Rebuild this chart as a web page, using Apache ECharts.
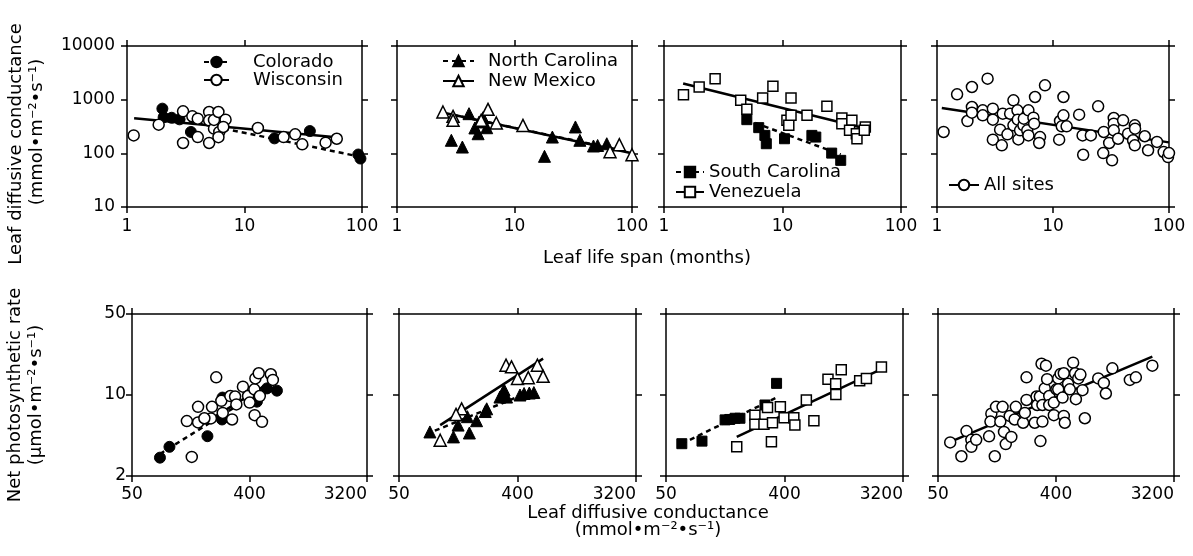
<!DOCTYPE html>
<html><head><meta charset="utf-8">
<script src="https://cdn.jsdelivr.net/npm/echarts@6/dist/echarts.min.js"></script>
<style>html,body{margin:0;padding:0;background:#fff}#c{width:1193px;height:556px}</style>
</head><body><div id="c"></div><script>
// ---------- Top row: leaf life span (months) vs leaf diffusive conductance ----------
const lifeSpanTicks = [1, 10, 100];
const conductanceTicks = [10, 100, 1000, 10000];
const coloradoLS = [[2.0,680],[2.05,470],[2.4,460],[2.8,430],[3.5,250],[18,190],[36,260],[93,95],[97,80]];
const wisconsinLS = [[1.14,216],[1.86,342],[3.0,607],[3.0,156],[3.6,489],[4.0,442],[4.0,201],[5.0,589],[5.0,156],[5.0,412],[5.5,288],[5.5,420],[6.0,589],[6.1,251],[6.0,200],[6.9,424],[6.6,310],[13,297],[21.5,201],[27,226],[31,147],[49,158],[61,187]];
const coloradoLSFit = [[2,500],[100,85]];
const wisconsinLSFit = [[1.15,450],[60,200]];

const ncLS = [[4.1,548],[2.9,175],[3.6,131],[4.6,297],[4.9,232],[5.0,384],[5.4,462],[5.8,300],[18,88],[21,201],[33,310],[36,175],[47,137],[51,140],[61,151]];
const nmLS = [[2.46,589],[3.0,489],[3.0,412],[5.95,661],[5.2,412],[7.0,367],[11.8,331],[65,107],[78,145],[100,94]];
const ncLSFit = [[3,520],[75,118]];
const nmLSFit = [[2.5,570],[100,100]];

const scLS = [[5.0,424],[6.3,301],[7.1,216],[7.3,151],[10.4,187],[17.7,216],[19.1,201],[26,101],[31,74]];
const venLS = [[1.46,1238],[1.98,1722],[2.7,2460],[4.44,973],[5.0,661],[6.8,1075],[8.3,1770],[11.8,1075],[10.9,412],[11.3,333],[11.8,510],[16.1,510],[23.7,751],[31.7,455],[31.7,357],[38.5,412],[36.8,268],[42,232],[42.5,187],[50,310],[49,268]];
const scLSFit = [[5,420],[31,95]];
const venLSFit = [[1.45,2000],[50,290]];

const allLS = [[1.14,250],[1.49,1256],[2.0,1722],[2.73,2460],[1.83,400],[2.0,729],[2.0,573],[2.48,632],[2.48,510],[3.03,679],[3.03,424],[3.03,180],[3.62,141],[3.5,276],[3.69,548],[4.05,226],[4.27,548],[4.56,973],[4.56,333],[4.94,632],[5.03,182],[4.97,424],[5.2,268],[5.56,333],[5.6,442],[6.14,632],[6.0,268],[6.14,216],[6.78,462],[6.88,357],[7.0,1121],[7.73,201],[7.6,156],[8.53,1849],[11.3,180],[11.5,400],[11.9,319],[12.3,1121],[12.3,510],[13.1,319],[16.8,525],[18,216],[18.2,94],[21.2,216],[24.5,751],[27.1,101],[27.4,250],[30.5,156],[32.3,74],[33.4,455],[33.4,357],[33.4,268],[36.4,187],[40.2,412],[44.4,232],[49,175],[50.7,333],[51,288],[50.7,141],[61.8,208],[66,114],[78.8,163],[90,106],[98,85],[100,101]];
const allLSFit = [[1.1,700],[100,160]];

// ---------- Bottom row: leaf diffusive conductance vs net photosynthetic rate ----------
const gsTicks = [50, 400, 3200];
const photoTicks = [2, 10, 50];
const coloradoGA = [[82,2.88],[97,3.57],[190,4.41],[246,6.15],[248,9.5],[456,8.76],[545,11.4],[650,10.9]];
const wisconsinGA = [[222,14.2],[132,5.96],[161,5.8],[161,7.9],[206,7.9],[202,6.28],[180,6.3],[144,2.92],[243,8.9],[249,7.0],[294,6.15],[285,9.8],[310,9.7],[317,8.3],[356,11.8],[390,9.8],[401,8.6],[436,11.2],[444,13.9],[471,15.4],[480,9.8],[438,6.7],[499,5.87],[583,15.1],[605,13.5]];
const coloradoGAFit = [[82,3.1],[600,12.5]];
const wisconsinGAFit = [[170,5.5],[620,13.5]];

const ncGA = [[86,4.8],[130,4.35],[141,5.5],[172,4.7],[166,6.5],[195,6.0],[227,7.2],[233,7.6],[294,9.6],[309,10.3],[330,9.6],[316,11.1],[418,10.0],[449,10.3],[492,10.4],[533,10.5]];
const nmGA = [[103,4.07],[150,7.6],[136,6.8],[327,18.1],[360,17.5],[400,13.9],[483,14.1],[567,18.1],[627,14.5]];
const ncGAFit = [[81,4.6],[535,11.0]];
const nmGAFit = [[103,5.5],[627,20.6]];

const scGA = [[66,3.8],[94,4.0],[141,6.1],[153,6.15],[168,6.3],[183,6.3],[284,8.2],[348,12.6]];
const venGA = [[173,3.57],[318,3.95],[238,6.7],[238,5.6],[279,5.6],[324,5.76],[297,7.8],[372,7.9],[397,6.36],[471,6.36],[480,5.5],[587,9.06],[670,6.0],[858,13.7],[982,12.5],[985,10.1],[1083,16.5],[1496,13.3],[1684,13.9],[2192,17.4]];
const scGAFit = [[66,3.8],[348,9.5]];
const venGAFit = [[173,4.35],[2192,16.7]];

const allGA = [[62,3.9],[75.5,2.96],[82.6,4.88],[90,4.1],[90,3.57],[98,4.1],[123,4.4],[136,2.96],[128,6.9],[126,5.9],[139,7.9],[156,7.9],[150,5.9],[160,4.8],[165,3.77],[182,4.35],[177,6.6],[197,7.9],[193,6.15],[224,5.76],[231,7.0],[238,9.06],[238,14.2],[275,5.76],[284,9.7],[287,8.2],[310,18.6],[335,17.9],[304,4.0],[315,5.9],[301,9.7],[315,8.2],[328,11.4],[342,13.7],[355,9.8],[355,8.2],[385,8.6],[385,6.7],[403,11.2],[416,13.9],[416,11.2],[434,15.2],[449,9.5],[459,6.6],[467,5.76],[459,15.4],[495,12.5],[510,11.2],[541,19.0],[560,15.4],[568,9.2],[592,13.9],[615,15.0],[638,11.0],[665,6.3],[842,13.9],[929,12.7],[963,10.3],[1080,17.0],[1470,13.5],[1634,14.2],[2185,17.9]];
const allGAFit = [[62,3.94],[2185,21.4]];

// ---------- build ----------
const FONT = 'DejaVu Sans';
const gsBase = gsTicks[1] / gsTicks[0];        // 8
const phBase = photoTicks[1] / photoTicks[0];  // 5
const gx = v => Math.log(v / gsTicks[0]) / Math.log(gsBase);
const gy = v => Math.log(v / photoTicks[0]) / Math.log(phBase);
const toGA = arr => arr.map(p => [gx(p[0]), gy(p[1])]);

const grids = [
  {left:127, top:46, width:235, height:161},
  {left:397, top:46, width:235, height:161},
  {left:664, top:46, width:237, height:161},
  {left:937, top:46, width:232, height:161},
  {left:132, top:314, width:235, height:162},
  {left:399, top:314, width:237, height:162},
  {left:666, top:314, width:237, height:162},
  {left:938, top:314, width:236, height:162}
];

const axLine = {show:true, onZero:false, lineStyle:{color:'#000', width:1.5}};
const axTick = {show:true, inside:false, length:6, lineStyle:{color:'#000', width:1.5}};
const lbl = {color:'#000', fontSize:17, fontFamily:FONT};

const xAxis = [], yAxis = [];
grids.forEach((g, i) => {
  const top = i < 4;
  const showY = (i === 0 || i === 4);
  let xb, yb;
  if (top) {
    xb = {type:'log', logBase:10, min:lifeSpanTicks[0], max:lifeSpanTicks[2]};
    yb = {type:'log', logBase:10, min:conductanceTicks[0], max:conductanceTicks[3]};
  } else {
    xb = {type:'value', min:0, max:gsTicks.length - 1, interval:1};
    yb = {type:'value', min:0, max:photoTicks.length - 1, interval:1};
  }
  const xf = top ? (v => String(Math.round(v))) : (v => String(Math.round(gsTicks[0] * Math.pow(gsBase, v))));
  const yf = top ? (v => String(Math.round(v))) : (v => String(Math.round(photoTicks[0] * Math.pow(phBase, v))));
  const xl = Object.assign({}, lbl, {show:true, margin: top ? 11 : 10, formatter:xf, showMinLabel:true, showMaxLabel:true});
  if (!top) xl.alignMaxLabel = 'right';
  xAxis.push(Object.assign({}, xb, {gridIndex:i, position:'bottom', axisLine:axLine, axisTick:axTick, splitLine:{show:false}, minorTick:{show:false}, axisLabel:xl}));
  xAxis.push(Object.assign({}, xb, {gridIndex:i, position:'top', axisLine:axLine, axisTick:axTick, splitLine:{show:false}, axisLabel:{show:false}}));
  yAxis.push(Object.assign({}, yb, {gridIndex:i, position:'left', axisLine:axLine, axisTick:axTick, splitLine:{show:false}, minorTick:{show:false},
    axisLabel:Object.assign({}, lbl, {show:showY, margin: top ? 12 : 6, formatter:yf, showMinLabel:true, showMaxLabel:true})}));
  yAxis.push(Object.assign({}, yb, {gridIndex:i, position:'right', axisLine:axLine, axisTick:axTick, splitLine:{show:false}, axisLabel:{show:false}}));
});

const series = [];
function group(gi, name, pts, fit, symbol, filled, dashed, size) {
  const st = filled ? {color:'#000', borderColor:'#000', borderWidth:1, opacity:1} : {color:'#fff', borderColor:'#000', borderWidth:1.5, opacity:1};
  series.push({type:'line', name:name, xAxisIndex:2*gi, yAxisIndex:2*gi, data:fit, symbol:symbol, symbolSize:size, showSymbol:false,
    color:'#000', lineStyle:{color:'#000', width:2.5, type: dashed ? [5,4] : 'solid'}, itemStyle:st, z:2, silent:true, animation:false});
  series.push({type:'scatter', name:name, xAxisIndex:2*gi, yAxisIndex:2*gi, data:pts, symbol:symbol, symbolSize:size,
    itemStyle:st, z: filled ? 3 : 4, silent:true, animation:false});
}
group(0, 'Colorado', coloradoLS, coloradoLSFit, 'circle', true, true, 11);
group(0, 'Wisconsin', wisconsinLS, wisconsinLSFit, 'circle', false, false, 11);
group(1, 'North Carolina', ncLS, ncLSFit, 'triangle', true, true, 12);
group(1, 'New Mexico', nmLS, nmLSFit, 'triangle', false, false, 12);
group(2, 'South Carolina', scLS, scLSFit, 'rect', true, true, 10);
group(2, 'Venezuela', venLS, venLSFit, 'rect', false, false, 10);
group(3, 'All sites', allLS, allLSFit, 'circle', false, false, 11);
group(4, 'Colorado', toGA(coloradoGA), toGA(coloradoGAFit), 'circle', true, true, 11);
group(4, 'Wisconsin', toGA(wisconsinGA), toGA(wisconsinGAFit), 'circle', false, false, 11);
group(5, 'North Carolina', toGA(ncGA), toGA(ncGAFit), 'triangle', true, true, 12);
group(5, 'New Mexico', toGA(nmGA), toGA(nmGAFit), 'triangle', false, false, 12);
group(6, 'South Carolina', toGA(scGA), toGA(scGAFit), 'rect', true, true, 10);
group(6, 'Venezuela', toGA(venGA), toGA(venGAFit), 'rect', false, false, 10);
group(7, 'All sites', toGA(allGA), toGA(allGAFit), 'circle', false, false, 11);

function legend(names, left, top, iw, pad, gap) {
  return {data:names, left:left, top:top, orient:'vertical', itemWidth:iw, itemHeight:13, itemGap:gap,
    selectedMode:false, padding:0,
    textStyle:{color:'#000', fontSize:18, fontFamily:FONT, lineHeight:18, padding:[0,0,0,pad]}};
}

const titleStyle = {fontSize:18, fontFamily:FONT, fill:'#000', align:'center', verticalAlign:'middle'};
const option = {
  animation:false,
  backgroundColor:'#fff',
  grid:grids,
  xAxis:xAxis,
  yAxis:yAxis,
  legend:[
    legend(['Colorado','Wisconsin'], 203, 53, 25, 19, 0),
    legend(['North Carolina','New Mexico'], 442, 52, 31, 9, 2),
    legend(['South Carolina','Venezuela'], 675, 163, 28, 0, 2),
    legend(['All sites'], 948, 176, 30, 0, 0)
  ],
  series:series,
  graphic:[
    {type:'text', x:16, y:144, rotation:Math.PI/2, silent:true,
     style:Object.assign({text:'Leaf diffusive conductance'}, titleStyle)},
    {type:'text', x:37, y:132, rotation:Math.PI/2, silent:true,
     style:Object.assign({text:'(mmol•m⁻²•s⁻¹)'}, titleStyle)},
    {type:'text', x:26, y:395, rotation:Math.PI/2, silent:true,
     style:Object.assign({text:'Net photosynthetic rate\n(μmol•m⁻²•s⁻¹)', lineHeight:21}, titleStyle)},
    {type:'text', x:647, y:258, silent:true,
     style:Object.assign({text:'Leaf life span (months)'}, titleStyle)},
    {type:'text', x:648, y:522, silent:true,
     style:Object.assign({text:'Leaf diffusive conductance\n(mmol•m⁻²•s⁻¹)', lineHeight:16.5}, titleStyle)}
  ]
};
const chart = echarts.init(document.getElementById('c'), null, {renderer:'canvas'});
chart.setOption(option);
</script></body></html>
